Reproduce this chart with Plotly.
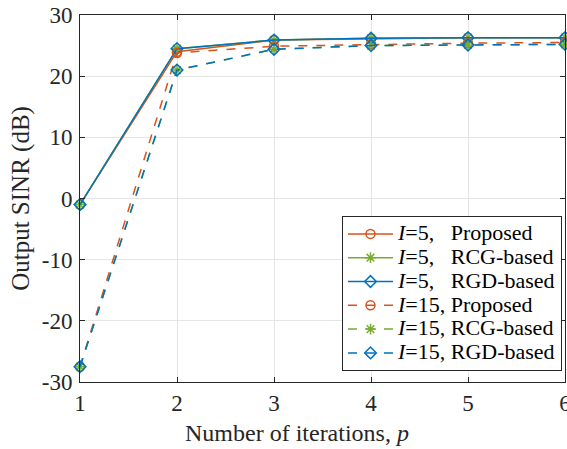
import plotly.graph_objects as go

p = [1, 2, 3, 4, 5, 6]
i5_proposed = [-1.0, 24.0, 25.9, 26.1, 26.3, 26.3]
i5_rcg = [-1.0, 24.5, 25.9, 26.2, 26.3, 26.3]
i5_rgd = [-1.0, 24.5, 25.9, 26.2, 26.3, 26.3]
i15_proposed = [-27.5, 23.8, 24.9, 25.2, 25.4, 25.5]
i15_rcg = [-27.5, 21.0, 24.4, 25.0, 25.1, 25.2]
i15_rgd = [-27.5, 21.0, 24.4, 25.0, 25.1, 25.2]
y_ticks = [-30, -20, -10, 0, 10, 20, 30]
y_ticklabels = ["-30", "-20", "-10", "0", "10", "20", "30"]
x_ticks = [1, 2, 3, 4, 5, 6]
x_title = "Number of iterations, <i>p</i>"
y_title = "Output SINR (dB)"

orange = "#D95319"
green = "#77AC30"
blue = "#0072BD"

def lbl(s):
    return '<span style="font-size:22px">' + s + '</span>'

series = [
    (lbl("<i>I</i>=5,&nbsp;&nbsp;&nbsp;Proposed"), i5_proposed, orange, "circle-open", "solid"),
    (lbl("<i>I</i>=5,&nbsp;&nbsp;&nbsp;RCG-based"), i5_rcg, green, "asterisk-open", "solid"),
    (lbl("<i>I</i>=5,&nbsp;&nbsp;&nbsp;RGD-based"), i5_rgd, blue, "diamond-open", "solid"),
    (lbl("<i>I</i>=15, Proposed"), i15_proposed, orange, "circle-open", "dash"),
    (lbl("<i>I</i>=15, RCG-based"), i15_rcg, green, "asterisk-open", "dash"),
    (lbl("<i>I</i>=15, RGD-based"), i15_rgd, blue, "diamond-open", "dash"),
]

fig = go.Figure()
for name, y, c, sym, dash in series:
    fig.add_trace(go.Scatter(
        x=p, y=y, name=name, mode="lines+markers",
        line=dict(color=c, width=1.5, dash=dash),
        marker=dict(symbol=sym, size=9, color=c, line=dict(width=1.5, color=c)),
        cliponaxis=False,
    ))

FONT = "Liberation Serif"
axis_common = dict(
    showline=True, linecolor="#262626", linewidth=1, mirror="ticks",
    ticks="inside", ticklen=5, tickcolor="#262626",
    showgrid=True, gridcolor="#E5E5E5", gridwidth=1, zeroline=False,
    tickfont=dict(family=FONT, size=23, color="#262626"),
    automargin=False, ticklabeloverflow="allow",
)

fig.update_layout(
    width=567, height=449,
    margin=dict(l=80, r=2, t=15, b=67),
    plot_bgcolor="white", paper_bgcolor="white",
    font=dict(family=FONT, color="#262626"),
    xaxis=dict(range=[1, 6], tickvals=x_ticks, **axis_common),
    yaxis=dict(range=[-30, 30], tickvals=y_ticks, ticktext=y_ticklabels,
               ticklabelstandoff=2,
               title=dict(text=y_title, font=dict(family=FONT, size=25), standoff=4),
               **axis_common),
    legend=dict(x=0.9938, y=0.03, xanchor="right", yanchor="bottom",
                bgcolor="white", bordercolor="#262626", borderwidth=1,
                font=dict(family=FONT, size=16, color="#000"),
                tracegroupgap=0, itemwidth=45),
    showlegend=True,
    annotations=[dict(text=x_title, xref="paper", yref="paper",
                      x=0.447, y=-0.139, xanchor="center", yanchor="middle",
                      showarrow=False, font=dict(family=FONT, size=24, color="#262626"))],
)

fig.write_html("out.html", config={"displayModeBar": False},
               post_script="document.body.style.margin='0';document.body.style.padding='0';")
